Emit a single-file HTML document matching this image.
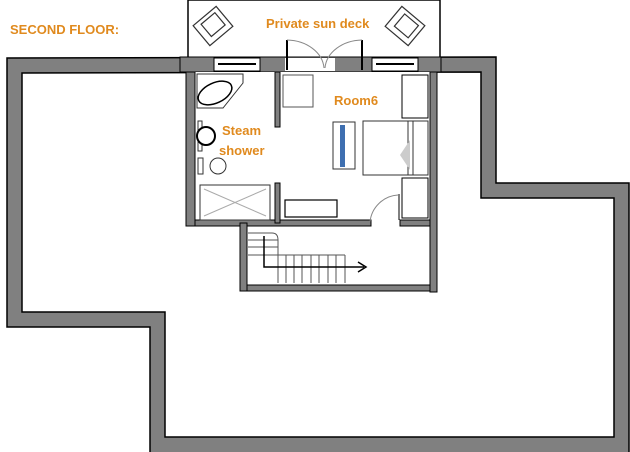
<!DOCTYPE html>
<html><head><style>html,body{margin:0;padding:0;background:#fff;}svg{display:block}
text{font-family:"Liberation Sans",sans-serif;font-weight:bold;fill:#e08a1e}</style></head>
<body>
<svg width="630" height="452" viewBox="0 0 630 452" xmlns="http://www.w3.org/2000/svg">
<!-- outer wall -->
<path d="M7,58 L496,57 L496,183 L629,183 L629,460 L150,460 L150,327 L7,327 Z M22,73 L22,312 L165,312 L165,437 L614,437 L614,198 L481,198 L481,72 Z" fill="#808080" fill-rule="evenodd" stroke="#000" stroke-width="1.5"/>
<text x="10" y="34" font-size="13">SECOND FLOOR:</text>
<!-- deck -->
<rect x="188" y="0" width="252" height="60" fill="#fff" stroke="#000" stroke-width="1.5"/>
<!-- room interior -->
<rect x="187" y="57" width="250" height="170" fill="#fff"/>
<!-- top wall -->
<rect x="180" y="57" width="261" height="15" fill="#808080" stroke="#000"/>
<rect x="214" y="58" width="46" height="13" fill="#fff" stroke="#000"/>
<line x1="218" y1="64" x2="256" y2="64" stroke="#000" stroke-width="2"/>
<rect x="285" y="58" width="50" height="13" fill="#fff"/>
<rect x="372" y="58" width="46" height="13" fill="#fff" stroke="#000"/>
<line x1="376" y1="64" x2="414" y2="64" stroke="#000" stroke-width="2"/>
<rect x="187" y="72" width="250" height="150" fill="#fff"/>
<!-- double door -->
<line x1="287" y1="40" x2="287" y2="70" stroke="#000" stroke-width="2"/>
<line x1="362" y1="40" x2="362" y2="70" stroke="#000" stroke-width="2"/>
<path d="M287,40 A38,30 0 0 1 324,68 M362,40 A38,30 0 0 0 325,68" fill="none" stroke="#888"/>
<!-- chairs on deck -->
<g fill="#fff" stroke="#333" stroke-width="1.2">
<rect x="198" y="13" width="30" height="26" transform="rotate(-40 213 26)"/>
<rect x="205" y="17" width="18" height="16" transform="rotate(-40 213 26)"/>
<rect x="390" y="13" width="30" height="26" transform="rotate(40 405 26)"/>
<rect x="397" y="17" width="18" height="16" transform="rotate(40 405 26)"/>
</g>
<!-- room walls -->
<rect x="186" y="72" width="9" height="154" fill="#808080" stroke="#000"/>
<rect x="430" y="72" width="7" height="220" fill="#808080" stroke="#000"/>
<rect x="195" y="220" width="176" height="6" fill="#808080" stroke="#000"/>
<rect x="400" y="220" width="30" height="6" fill="#808080" stroke="#000"/>
<rect x="275" y="72" width="5" height="55" fill="#808080" stroke="#000"/>
<rect x="275" y="183" width="5" height="40" fill="#808080" stroke="#000"/>
<!-- stair box -->
<rect x="240" y="223" width="7" height="68" fill="#808080" stroke="#000"/>
<rect x="247" y="285" width="183" height="6" fill="#808080" stroke="#000"/>
<!-- bathroom fixtures -->
<path d="M197,74 L243,74 L243,83 L223,108 L197,108 Z" fill="#fff" stroke="#333"/>
<ellipse cx="215" cy="93" rx="18" ry="10" transform="rotate(-25 215 93)" fill="none" stroke="#000" stroke-width="1.5"/>
<rect x="198" y="121" width="4" height="30" fill="#fff" stroke="#333"/>
<circle cx="206" cy="136" r="9" fill="#fff" stroke="#000" stroke-width="2"/>
<ellipse cx="218" cy="166" rx="8" ry="8" fill="#fff" stroke="#333"/>
<rect x="198" y="158" width="5" height="16" fill="#fff" stroke="#333"/>
<rect x="200" y="185" width="70" height="35" fill="#fff" stroke="#333"/>
<path d="M204,189 L266,216 M266,189 L204,216" stroke="#aaa"/>
<!-- room furniture -->
<rect x="283" y="75" width="30" height="32" fill="#fff" stroke="#555"/>
<rect x="333" y="122" width="22" height="47" fill="#fff" stroke="#333"/>
<rect x="340" y="125" width="5" height="42" fill="#3e6fb0"/>
<rect x="363" y="121" width="65" height="54" fill="#fff" stroke="#333"/>
<line x1="408" y1="121" x2="408" y2="175" stroke="#333"/>
<line x1="413" y1="121" x2="413" y2="175" stroke="#333"/>
<path d="M400,155 L410,140 L410,170 Z" fill="#ccc"/>
<rect x="402" y="75" width="26" height="43" fill="#fff" stroke="#000"/>
<rect x="402" y="178" width="26" height="40" fill="#fff" stroke="#000"/>
<rect x="285" y="200" width="52" height="17" fill="#fff" stroke="#000" stroke-width="1.2"/>
<path d="M370,222 A30,30 0 0 1 398,195" fill="none" stroke="#888"/>
<line x1="399" y1="194" x2="399" y2="220" stroke="#000"/>
<!-- stairs -->
<g stroke="#555" fill="none">
<path d="M248,233 L272,233 Q278,233 278,240 L278,255 L345,255"/>
<line x1="248" y1="240" x2="278" y2="240"/><line x1="248" y1="247" x2="278" y2="247"/><line x1="248" y1="255" x2="278" y2="255"/>
<line x1="278" y1="255" x2="278" y2="283"/><line x1="286" y1="255" x2="286" y2="283"/><line x1="294" y1="255" x2="294" y2="283"/><line x1="302" y1="255" x2="302" y2="283"/><line x1="311" y1="255" x2="311" y2="283"/><line x1="319" y1="255" x2="319" y2="283"/><line x1="328" y1="255" x2="328" y2="283"/><line x1="336" y1="255" x2="336" y2="283"/><line x1="345" y1="255" x2="345" y2="283"/>
</g>
<path d="M264,236 L264,267 L364,267" stroke="#000" stroke-width="1.5" fill="none"/>
<path d="M358,262 L366,267 L358,272" stroke="#000" stroke-width="1.5" fill="none"/>
<!-- labels -->
<text x="266" y="28" font-size="13">Private sun deck</text>
<text x="334" y="105" font-size="13">Room6</text>
<text x="222" y="135" font-size="13">Steam</text>
<text x="219" y="155" font-size="13">shower</text>
</svg>
</body></html>
